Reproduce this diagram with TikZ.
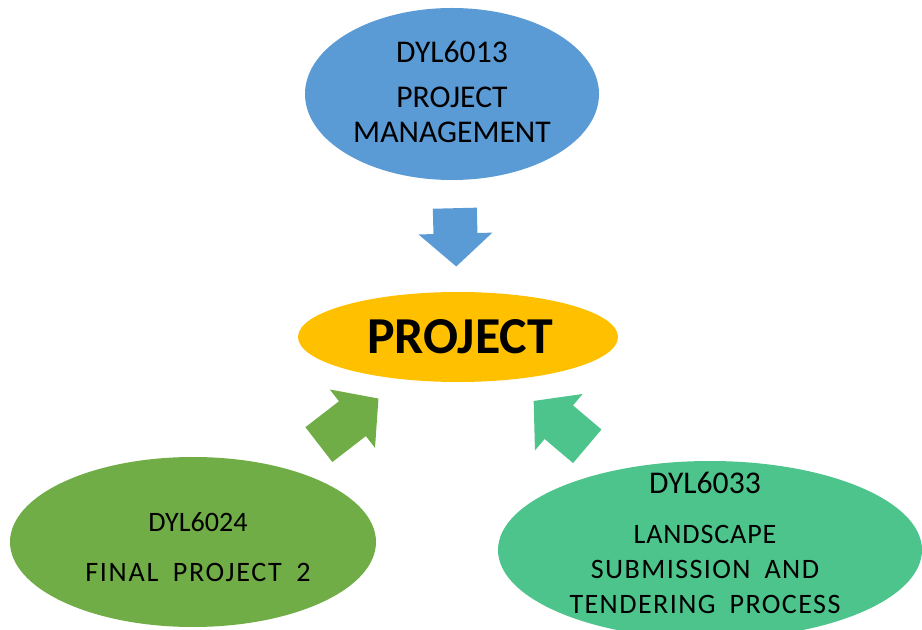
\documentclass[tikz,border=0pt]{standalone}
\usepackage{fontspec}
\setmainfont{Carlito}
\usetikzlibrary{positioning}
\usetikzlibrary{shapes.geometric}
\usetikzlibrary{arrows.meta}
\usetikzlibrary{calc}
\definecolor{pmC}{HTML}{5B9BD5}
\definecolor{prjC}{HTML}{FFC000}
\definecolor{fpC}{HTML}{70AD47}
\definecolor{lsC}{HTML}{4DC48C}
\tikzstyle{crs}=[shape=ellipse, inner sep=0pt]
\tikzstyle{crstxt}=[align=center, inner sep=0pt, font=\fontsize{16}{20}\selectfont]
\tikzstyle{feed}=[line width=0.88cm, -{Triangle[length=0.66cm,width=1.44cm]}]
\def\crs{\node[style=crs]}
\def\crstxt{\node[style=crstxt]}
\def\feed{\draw[style=feed]}
\newcommand{\wide}[2]{{\addfontfeature{LetterSpace=#1}\spaceskip=1.8\fontdimen2\font\relax #2}}

\begin{document}
\begin{tikzpicture}
      \useasboundingbox (0,0) rectangle (18.44,12.58);
      % courses
      \crs (pm)   at (9.04,10.70) [fill=pmC,  minimum width=5.88cm, minimum height=3.44cm] {};
      \crs (proj) at (9.16,5.84)  [fill=prjC, minimum width=6.40cm, minimum height=1.80cm] {};
      \crs (fp)   at (3.86,1.74)  [fill=fpC,  minimum width=7.32cm, minimum height=3.40cm] {};
      \crs (ls)   at (14.20,1.58) [fill=lsC,  minimum width=8.48cm, minimum height=3.56cm] {};

      % texts
      \crstxt (pmtxt) at ($(pm)+(0,0.04)$) [font=\fontsize{18}{20}\selectfont] {DYL6013\\[6pt] PROJECT\\ MANAGEMENT};
      \node[font=\fontsize{29.5}{30}\bfseries] (projtxt) at ($(proj)+(0.04,0)$) {PROJECT};
      \crstxt (fptxt) at ($(fp)+(0.1,-0.1)$) {DYL6024\\[8pt] \wide{6}{FINAL PROJECT 2}};
      \crstxt (lstxt) at ($(ls)+(-0.1,0.14)$) {{\fontsize{18}{20}\selectfont DYL6033}\\[8pt] \wide{3}{LANDSCAPE}\\
              \wide{5}{SUBMISSION AND}\\ \wide{5}{TENDERING PROCESS}};

      % arrows
      \feed[pmC]  ($(pm)!0.47!(proj)$) -- ($(pm)!0.71!(proj)$);
      \feed[fpC]  ($(fp)!0.475!(proj)$) -- ($(fp)!0.70!(proj)$);
      \feed[lsC]  ($(ls)!0.487!(proj)$) -- ($(ls)!0.70!(proj)$);
\end{tikzpicture}
\end{document}
